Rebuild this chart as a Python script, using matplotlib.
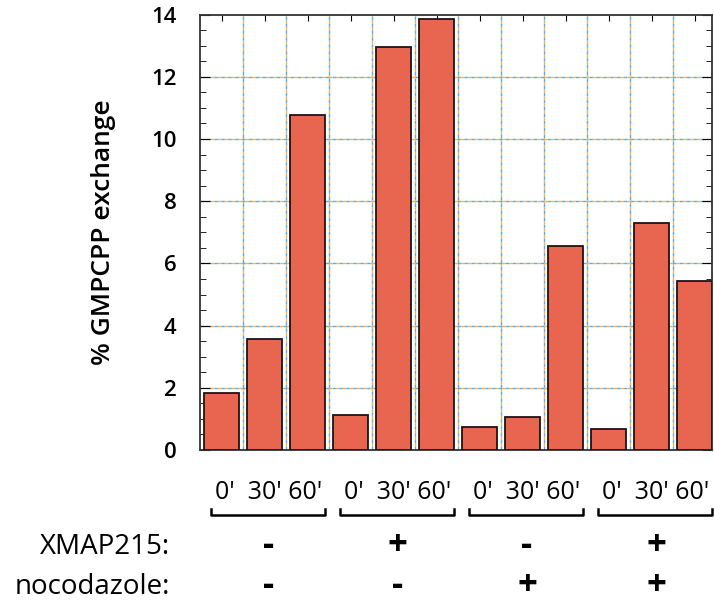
import matplotlib
matplotlib.use("Agg")
import matplotlib.pyplot as plt
from matplotlib.ticker import MultipleLocator

plt.rcParams['font.family'] = ['Open Sans', 'DejaVu Sans']

# data
times = ["0'", "30'", "60'"]
xmap215 = ["-", "+", "-", "+"]
nocodazole = ["-", "-", "+", "+"]
exchange = [1.83, 3.57, 10.77,
            1.13, 12.97, 13.86,
            0.73, 1.05, 6.56,
            0.68, 7.29, 5.43]

n = len(exchange)
x = list(range(n))
ngroups = n // len(times)

fig = plt.figure(figsize=(7.14, 6.05), dpi=100)
ax = fig.add_axes([200 / 714, 155 / 605, 512 / 714, 435.4 / 605])

ax.bar(x, exchange, width=0.82, color="#e8664f", edgecolor="#1e1414",
       linewidth=1.3, zorder=3)

ax.set_xlim(-0.5, n - 0.6)
ax.set_ylim(0, 14)

# grid, blue/orange dashes like the scan
for v in [k + 0.5 for k in range(n - 1)]:
    ax.axvline(v, color="#4fb0ea", lw=1.0, ls=(0, (2.5, 2.5)), zorder=1)
    ax.axvline(v, color="#f0b35a", lw=1.0, ls=(2.5, (2.5, 2.5)), zorder=1)
for h in range(2, 14, 2):
    ax.axhline(h, color="#4fb0ea", lw=1.0, ls=(0, (2.5, 2.5)), zorder=1)
    ax.axhline(h, color="#f0b35a", lw=1.0, ls=(2.5, (2.5, 2.5)), zorder=1)

ax.yaxis.set_major_locator(MultipleLocator(2))
ax.yaxis.set_minor_locator(MultipleLocator(0.5))
ax.set_xticks(x)
ax.set_xticklabels([])
ax.tick_params(axis="x", direction="in", length=4, top=True)
ax.tick_params(axis="y", which="both", direction="in", right=True)
ax.tick_params(axis="y", which="major", length=7, labelsize=16, pad=17)
ax.tick_params(axis="y", which="minor", length=4)
for lab in ax.get_yticklabels():
    lab.set_fontweight("semibold")
for s in ax.spines.values():
    s.set_linewidth(1.3)
    s.set_color("#333333")

ax.set_ylabel("% GMPCPP exchange", fontsize=19, fontweight="semibold", labelpad=25)

# time labels and brackets under each group of three
trans = ax.get_xaxis_transform()
time_str = times[0] + "  " + " ".join(times[1:])
for g in range(ngroups):
    ax.text(3 * g + 1.1, -0.097, time_str,
            transform=trans, ha="center", va="center", fontsize=18)
    x0, x1 = 3 * g - 0.25, 3 * g + 2.4
    ax.plot([x0, x0, x1, x1], [-0.135, -0.149, -0.149, -0.135], color="black",
            lw=1.8, transform=trans, clip_on=False)

# condition rows
fig.text(170 / 714, (605 - 547) / 605, "XMAP215:", ha="right", va="center", fontsize=20)
fig.text(170 / 714, (605 - 587) / 605, "nocodazole:", ha="right", va="center", fontsize=20)
for g in range(ngroups):
    xf = fig.transFigure.inverted().transform(ax.transData.transform((3 * g + 1.1, 0)))[0]
    fig.text(xf, (605 - 546) / 605, xmap215[g], ha="center", va="center",
             fontsize=25, fontweight="bold")
    fig.text(xf, (605 - 586) / 605, nocodazole[g], ha="center", va="center",
             fontsize=25, fontweight="bold")

fig.savefig("out.png", dpi=100)
